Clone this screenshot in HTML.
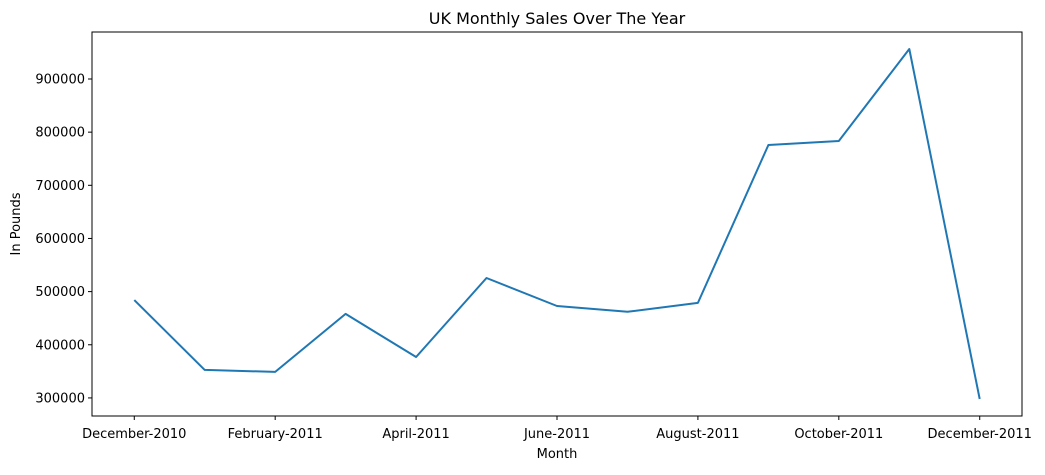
<!DOCTYPE html>
<html><head><meta charset="utf-8">
<style>
body{margin:0;background:#fff;font-family:"Liberation Sans","DejaVu Sans",sans-serif;}
svg text{font-family:"DejaVu Sans","Liberation Sans",sans-serif;}
</style></head>
<body>
<svg id="chart" width="1045" height="470">
<text x="557" y="24" font-size="16" text-anchor="middle" fill="#000">UK Monthly Sales Over The Year</text>
<g id="yaxis"></g>
<g id="xaxis"></g>
<text x="557" y="458" font-size="13" text-anchor="middle">Month</text>
<text transform="translate(20,224) rotate(-90)" font-size="13" text-anchor="middle">In Pounds</text>
<rect x="92" y="32" width="930" height="384" fill="none" stroke="#000" stroke-width="1"/>
</svg>
<script>
const months = ["Dec-2010","Jan-2011","Feb-2011","Mar-2011","Apr-2011","May-2011","Jun-2011","Jul-2011","Aug-2011","Sep-2011","Oct-2011","Nov-2011","Dec-2011"];
const sales = [484000,352700,349000,458000,377000,525700,473000,462000,478700,775800,783400,956400,298000];
const yTicks = [300000,400000,500000,600000,700000,800000,900000];
const xTickIdx = [0,2,4,6,8,10,12];
const xTickLabels = ["December-2010","February-2011","April-2011","June-2011","August-2011","October-2011","December-2011"];

const NS="http://www.w3.org/2000/svg";
const L=92,R=1022,T=32,B=416;
const xMin=-0.6,xMax=12.6,yMin=266000,yMax=988400;
const xs=i=>L+(i-xMin)/(xMax-xMin)*(R-L);
const ys=v=>B-(v-yMin)/(yMax-yMin)*(B-T);
const svg=document.getElementById('chart');
function mk(t,a){const e=document.createElementNS(NS,t);for(const k in a)e.setAttribute(k,a[k]);return e;}
const ya=document.getElementById('yaxis'),xa=document.getElementById('xaxis');
yTicks.forEach(v=>{
  const y=ys(v);
  const l=mk('line',{x1:L-4,x2:L,y1:y,y2:y,stroke:'#000'});
  
  
  ya.appendChild(l);
  const t=mk('text',{x:L-7,y:y+4.5,'font-size':13,'text-anchor':'end'});
  
  
  t.textContent=v;ya.appendChild(t);
});
xTickIdx.forEach((i,k)=>{
  const x=xs(i);
  const l=mk('line',{x1:x,x2:x,y1:B,y2:B+4,stroke:'#000'});
  
  
  xa.appendChild(l);
  const t=mk('text',{x:x,y:B+22,'font-size':13,'text-anchor':'middle'});
  
  
  t.textContent=xTickLabels[k];xa.appendChild(t);
});
const pts=sales.map((v,i)=>xs(i).toFixed(1)+','+ys(v).toFixed(1)).join(' ');
const pl=mk('polyline',{points:pts,fill:'none',stroke:'#1f77b4','stroke-width':2,'stroke-linejoin':'round'});


svg.appendChild(pl);
</script>
</body></html>
